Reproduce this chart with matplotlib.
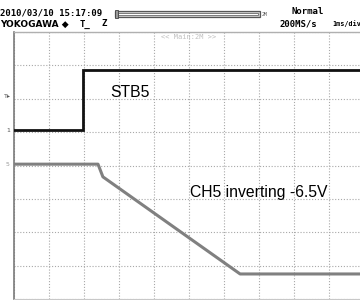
import matplotlib
matplotlib.use("Agg")
import matplotlib.pyplot as plt
from matplotlib.patches import Rectangle

# ---- data (x in ms at 1 ms/div, y in divisions from bottom) ----
stb5_t = [0.0, 1.97, 1.97, 10.0]
stb5_v = [5.05, 5.05, 6.86, 6.86]

ch5_t = [0.0, 2.40, 2.54, 6.46, 10.0]
ch5_v = [4.04, 4.04, 3.66, 0.75, 0.75]

header_date = "2010/03/10 15:17:09"
header_brand = "YOKOGAWA \u25c6"
header_mode = "Normal"
header_rate = "200MS/s"
header_tdiv = "1ms/div"
zoom_label = "<< Main:2M >>"
label_stb = "STB5"
label_ch5 = "CH5 inverting -6.5V"

W, H = 360, 300
fig = plt.figure(figsize=(W / 100, H / 100), dpi=100)
fig.patch.set_facecolor("white")

def fx(px):
    return px / W

def fy(py):
    return 1 - py / H

left, top, bottom = 14, 32, 299
ax = fig.add_axes([fx(left), fy(bottom), 350 / W, (bottom - top) / H])
ax.set_xlim(0, 10)
ax.set_ylim(0, 8)
ax.set_xticks(range(0, 11))
ax.set_yticks(range(0, 9))
ax.tick_params(length=0, labelbottom=False, labelleft=False)
ax.grid(True, color="#a8a8a8", linestyle=(0, (1, 1.6)), linewidth=0.8)
ax.spines["right"].set_visible(False)
ax.spines["left"].set_color("#7a7a7a")
ax.spines["left"].set_linewidth(1.2)
ax.spines["top"].set_color("#b0b0b0")
ax.spines["top"].set_linewidth(1.0)
ax.spines["bottom"].set_color("#c8c8c8")
ax.spines["bottom"].set_linewidth(0.8)

ax.plot(ch5_t, ch5_v, color="#808080", linewidth=2.2, solid_joinstyle="round", zorder=3)
ax.plot(stb5_t, stb5_v, color="#111111", linewidth=2.0, solid_joinstyle="miter", zorder=4)

sans = ["Liberation Sans", "DejaVu Sans"]
ax.text(2.74, 6.2, label_stb, fontsize=11.3, family=sans, ha="left", va="center", color="black")
ax.text(5.03, 3.2, label_ch5, fontsize=11.3, family=sans, ha="left", va="center", color="black")
ax.text(5.0, 7.85, zoom_label, fontsize=5, family="DejaVu Sans Mono", ha="center", va="center", color="#c0c0c0")

mono = "DejaVu Sans Mono"
hk = dict(fontsize=6.5, family=mono, fontweight="bold", color="black", va="center")
fig.text(fx(0), fy(13), header_date, ha="left", **hk)
fig.text(fx(0), fy(24), header_brand, ha="left",
         fontsize=6.5, family=["DejaVu Sans"], fontweight="bold", color="black", va="center")
fig.text(fx(80), fy(24), "T\u0332", ha="left", **hk)
fig.text(fx(101), fy(24), "Z", ha="left", **hk)
fig.text(fx(292), fy(12), header_mode, ha="left", **hk)
fig.text(fx(280), fy(24), header_rate, ha="left", **hk)
fig.text(fx(332), fy(24), header_tdiv, ha="left", fontsize=4.9, family=mono,
         fontweight="bold", color="black", va="center")
fig.text(fx(262), fy(14), "2M", ha="left", fontsize=3.5, family=mono, color="#555555", va="center")

# zoom position bar
fig.add_artist(Rectangle((fx(115), fy(17)), fx(260) - fx(115), fy(11) - fy(17),
                         facecolor="#cfcfcf", edgecolor="#555555", linewidth=0.9))
fig.add_artist(Rectangle((fx(118), fy(15.2)), fx(258) - fx(118), fy(12.8) - fy(15.2),
                         facecolor="white", edgecolor="#6a6a6a", linewidth=0.6))
fig.add_artist(Rectangle((fx(115), fy(18)), fx(118) - fx(115), fy(10) - fy(18),
                         facecolor="#999999", edgecolor="#444444", linewidth=0.6))

# channel markers on the left
fig.text(fx(4), fy(96), "T\u25b8", fontsize=4.5, family="DejaVu Sans", color="#555555", va="center")
fig.text(fx(6), fy(131), "1", fontsize=4.5, family="DejaVu Sans", color="#555555", va="center")
fig.text(fx(6), fy(165), "5", fontsize=4.5, family="DejaVu Sans", color="#999999", va="center")

fig.savefig("out.png", dpi=100, facecolor="white")
